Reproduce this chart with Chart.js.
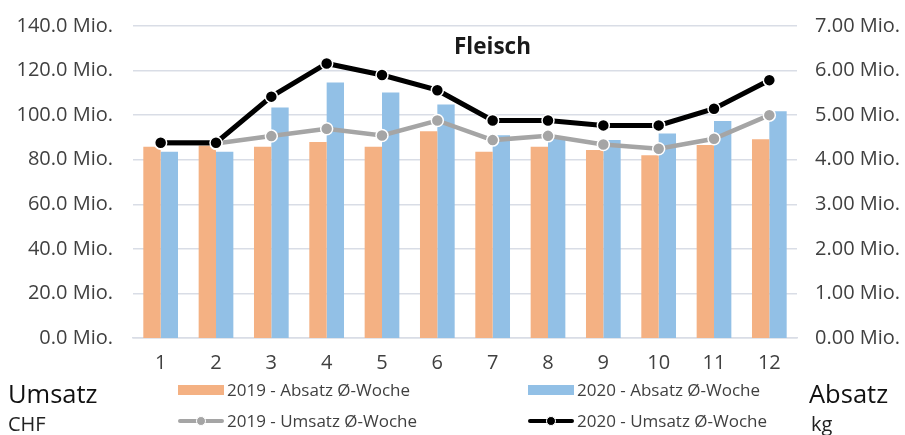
<!DOCTYPE html>
<html>
<head>
<meta charset="utf-8">
<script src="https://cdn.jsdelivr.net/npm/chart.js@4.4.1/dist/chart.umd.min.js"></script>
<style>
  html, body { margin: 0; padding: 0; background: #fff; }
  #wrap { position: relative; width: 905px; height: 435px; overflow: hidden; font-family: "Open Sans", sans-serif; color: #404040; }
  #chart { position: absolute; left: 0; top: 0; }
  .abs { position: absolute; white-space: nowrap; }
  #title { left: 454px; top: 31px; font-weight: bold; font-size: 22.5px; color: #1a1a1a; line-height: 30px; }
  .axisTitle { font-size: 25.5px; line-height: 28px; color: #111; }
  .axisUnit { font-size: 20px; line-height: 24px; color: #222; }
  .leg { display: flex; align-items: center; font-size: 17px; line-height: 22px; color: #404040; }
  .box { width: 46px; height: 10px; margin-right: 3px; }
  .lineSw { position: relative; width: 46px; height: 12px; margin-right: 3px; }
  .lineSw .bar { position: absolute; left: 0; right: 0; top: 4px; height: 4px; border-radius: 2px; }
  .lineSw .dot { position: absolute; left: 18px; top: 1px; width: 8px; height: 8px; border-radius: 50%; border: 1px solid #fff; }
</style>
</head>
<body>
<div id="wrap">
  <canvas id="chart" width="905" height="435"></canvas>
  <div id="title" class="abs">Fleisch</div>
  <div class="abs axisTitle" style="left:8px; top:379px;">Umsatz</div>
  <div class="abs axisUnit" style="left:8px; top:412px;">CHF</div>
  <div class="abs axisTitle" style="left:809px; top:379px;">Absatz</div>
  <div class="abs axisUnit" style="left:811px; top:412px;">kg</div>
  <div id="legend"></div>
</div>
<script>
// Monate
const months = ['1', '2', '3', '4', '5', '6', '7', '8', '9', '10', '11', '12'];

// Absatz pro Woche in Mio. kg (rechte Achse)
const absatz2019 = [4.29, 4.33, 4.29, 4.40, 4.29, 4.64, 4.18, 4.29, 4.22, 4.10, 4.33, 4.46];
const absatz2020 = [4.18, 4.18, 5.17, 5.73, 5.51, 5.24, 4.55, 4.47, 4.44, 4.59, 4.87, 5.09];

// Umsatz pro Woche in Mio. CHF (linke Achse)
const umsatz2019 = [87.4, 87.3, 90.6, 93.9, 90.9, 97.6, 88.8, 90.7, 86.8, 84.9, 89.4, 100.0];
const umsatz2020 = [87.6, 87.6, 108.3, 123.2, 118.0, 111.2, 97.6, 97.6, 95.4, 95.4, 102.9, 115.7];

// Achsenbeschriftung
const leftTicks = [0, 20, 40, 60, 80, 100, 120, 140];
const rightTicks = [0, 1, 2, 3, 4, 5, 6, 7];

const labels = {
  a19: '2019 - Absatz Ø-Woche',
  a20: '2020 - Absatz Ø-Woche',
  u19: '2019 - Umsatz Ø-Woche',
  u20: '2020 - Umsatz Ø-Woche'
};

const colOrange = '#f4b183';
const colBlue = '#92c0e6';
const colGrey = '#a5a5a5';
const colBlack = '#000000';
const gridCol = '#d9dde6';
const tickFont = { family: 'Open Sans', size: 20 };

// gewünschte Lage der Zeichenfläche (Seitenkoordinaten)
const AREA_TOP = 26.5;
const PAGE_H = 435;
const X_AXIS_HEIGHT = 97;

const canvas = document.getElementById('chart');

function makeChart(extraTop) {
  return new Chart(canvas.getContext('2d'), {
    data: {
      labels: months,
      datasets: [
        {
          type: 'line', label: labels.u20, data: umsatz2020, yAxisID: 'yL', order: 0,
          borderColor: colBlack, borderWidth: 5, backgroundColor: colBlack,
          pointRadius: 6, pointBorderColor: '#fff', pointBorderWidth: 1.5, pointBackgroundColor: colBlack,
          tension: 0, fill: false
        },
        {
          type: 'line', label: labels.u19, data: umsatz2019, yAxisID: 'yL', order: 1,
          borderColor: colGrey, borderWidth: 4.5, backgroundColor: colGrey,
          pointRadius: 6, pointBorderColor: '#fff', pointBorderWidth: 1.5, pointBackgroundColor: colGrey,
          tension: 0, fill: false
        },
        {
          type: 'bar', label: labels.a19, data: absatz2019, yAxisID: 'yR', order: 2,
          backgroundColor: colOrange, barPercentage: 1, categoryPercentage: 0.627
        },
        {
          type: 'bar', label: labels.a20, data: absatz2020, yAxisID: 'yR', order: 2,
          backgroundColor: colBlue, barPercentage: 1, categoryPercentage: 0.627
        }
      ]
    },
    options: {
      responsive: false,
      animation: false,
      layout: { padding: { top: extraTop, bottom: 0, left: 0, right: 0 } },
      plugins: { legend: { display: false }, title: { display: false }, tooltip: { enabled: false } },
      scales: {
        x: {
          type: 'category',
          offset: true,
          grid: { display: false },
          border: { display: true, color: gridCol, width: 1.5 },
          ticks: { color: '#404040', font: tickFont, padding: 5, maxRotation: 0 },
          afterFit: s => { s.height = X_AXIS_HEIGHT; }
        },
        yL: {
          position: 'left',
          min: 0, max: 140,
          afterBuildTicks: s => { s.ticks = leftTicks.map(v => ({ value: v })); },
          grid: { display: true, color: gridCol, lineWidth: 1.5, drawTicks: false },
          border: { display: false },
          ticks: { color: '#404040', font: tickFont, padding: 20, callback: v => v.toFixed(1) + ' Mio.' },
          afterFit: s => { s.width = 133; }
        },
        yR: {
          position: 'right',
          min: 0, max: 7,
          afterBuildTicks: s => { s.ticks = rightTicks.map(v => ({ value: v })); },
          grid: { display: false, drawTicks: false },
          border: { display: false },
          ticks: { color: '#404040', font: tickFont, padding: 18, callback: v => v.toFixed(2) + ' Mio.' },
          afterFit: s => { s.width = 108; }
        }
      }
    }
  });
}

// Die Beschriftungen reservieren oben einen Mindestabstand; ist er grösser als gewünscht,
// wird die Leinwand nach oben verlängert und verschoben, sonst oben Innenabstand ergänzt.
let chart = makeChart(0);
const top0 = chart.chartArea.top;
if (Math.abs(top0 - AREA_TOP) > 0.5) {
  chart.destroy();
  if (top0 > AREA_TOP) {
    const d = Math.round(top0 - AREA_TOP);
    canvas.width = 905;
    canvas.height = PAGE_H + d;
    canvas.style.top = (-d) + 'px';
    chart = makeChart(0);
  } else {
    chart = makeChart(AREA_TOP - top0);
  }
}

// Legende (2 x 2)
const legendItems = [
  { text: labels.a19, kind: 'box', color: colOrange, x: 178, y: 379 },
  { text: labels.a20, kind: 'box', color: colBlue, x: 528, y: 379 },
  { text: labels.u19, kind: 'line', color: colGrey, x: 178, y: 410 },
  { text: labels.u20, kind: 'line', color: colBlack, x: 528, y: 410 }
];
const legend = document.getElementById('legend');
legendItems.forEach(it => {
  const row = document.createElement('div');
  row.className = 'abs leg';
  row.style.left = it.x + 'px';
  row.style.top = it.y + 'px';
  let sw;
  if (it.kind === 'box') {
    sw = document.createElement('div');
    sw.className = 'box';
    sw.style.background = it.color;
  } else {
    sw = document.createElement('div');
    sw.className = 'lineSw';
    const bar = document.createElement('div');
    bar.className = 'bar';
    bar.style.background = it.color;
    const dot = document.createElement('div');
    dot.className = 'dot';
    dot.style.background = it.color;
    sw.appendChild(bar);
    sw.appendChild(dot);
  }
  const t = document.createElement('span');
  t.textContent = it.text;
  row.appendChild(sw);
  row.appendChild(t);
  legend.appendChild(row);
});
</script>
</body>
</html>
